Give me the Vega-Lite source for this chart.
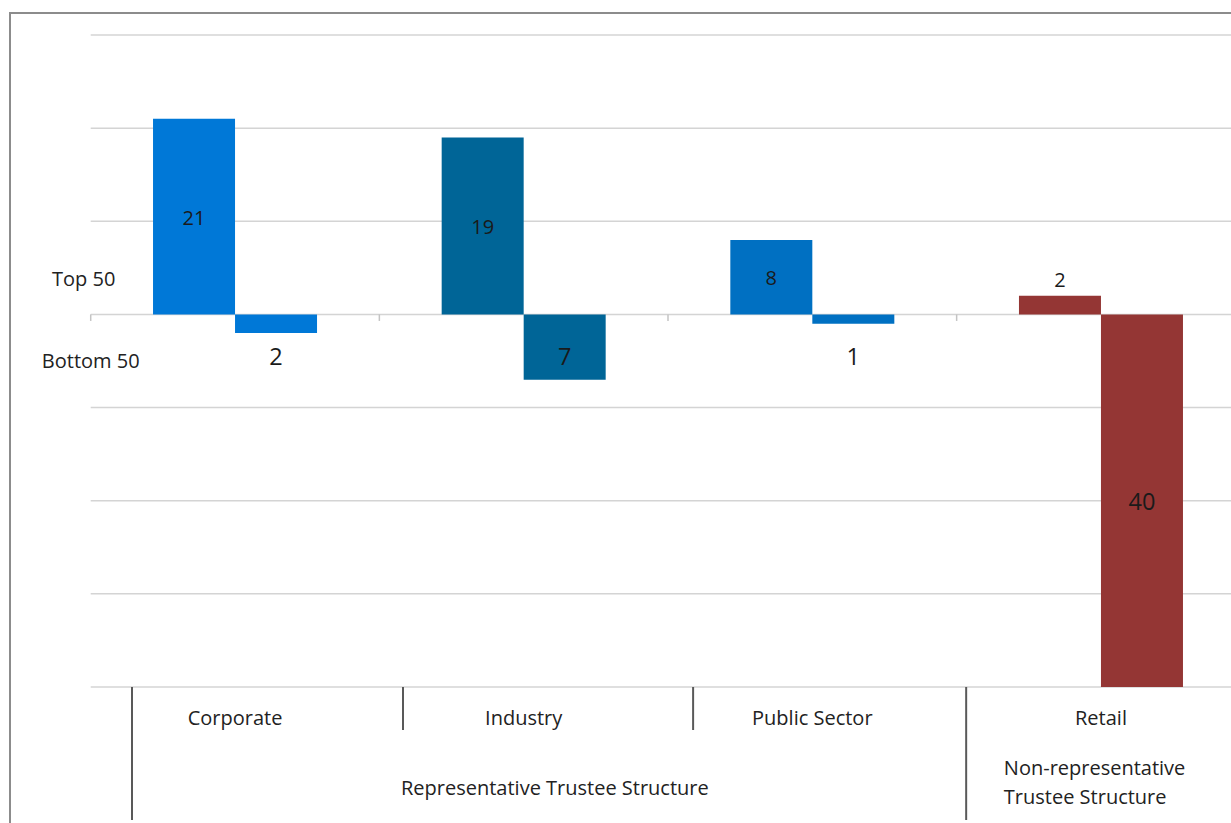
{
  "$schema": "https://vega.github.io/schema/vega-lite/v6.json",
  "width": 1316,
  "height": 817,
  "autosize": {"type": "none"},
  "padding": {"left": 10, "top": 13, "right": 0, "bottom": 0},
  "background": "white",
  "config": {
    "view": {"stroke": "#8c8c8c", "strokeWidth": 2},
    "font": "Open Sans",
    "text": {"font": "Open Sans"}
  },
  "datasets": {
    "counts": [
      {"sector": "Corporate", "series": "Top 50", "value": 21},
      {"sector": "Corporate", "series": "Bottom 50", "value": -2},
      {"sector": "Industry", "series": "Top 50", "value": 19},
      {"sector": "Industry", "series": "Bottom 50", "value": -7},
      {"sector": "Public Sector", "series": "Top 50", "value": 8},
      {"sector": "Public Sector", "series": "Bottom 50", "value": -1},
      {"sector": "Retail", "series": "Top 50", "value": 2},
      {"sector": "Retail", "series": "Bottom 50", "value": -40}
    ],
    "gridlines": [
      {"level": 30}, {"level": 20}, {"level": 10}, {"level": 0},
      {"level": -10}, {"level": -20}, {"level": -30}, {"level": -40}
    ]
  },
  "layer": [
    {
      "data": {"name": "gridlines"},
      "mark": {"type": "rule", "color": "#d4d4d4", "strokeWidth": 1.5},
      "encoding": {
        "x": {"datum": "Corporate", "type": "nominal", "bandPosition": 0, "axis": null},
        "x2": {"value": "width"},
        "y": {"field": "level", "type": "quantitative", "axis": null}
      }
    },
    {
      "data": {"name": "counts"},
      "transform": [{"filter": "datum.series == 'Top 50'"}],
      "mark": {"type": "rule", "color": "#c4c4c4", "strokeWidth": 1.5},
      "encoding": {
        "x": {"field": "sector", "type": "nominal", "bandPosition": 0, "axis": null},
        "y": {"datum": 0, "type": "quantitative", "axis": null},
        "y2": {"datum": -0.7}
      }
    },
    {
      "data": {"name": "counts"},
      "mark": {"type": "bar"},
      "encoding": {
        "x": {
          "field": "sector",
          "type": "nominal",
          "scale": {
            "domain": ["Corporate", "Industry", "Public Sector", "Retail"],
            "paddingInner": 0,
            "paddingOuter": 0.2796
          },
          "axis": null
        },
        "xOffset": {
          "field": "series",
          "type": "nominal",
          "scale": {"domain": ["Top 50", "Bottom 50"], "paddingInner": 0, "paddingOuter": 0.76}
        },
        "y": {
          "field": "value",
          "type": "quantitative",
          "scale": {"domain": [-55.353, 32.362], "nice": false, "zero": false},
          "axis": null
        },
        "y2": {"datum": 0},
        "color": {
          "field": "sector",
          "type": "nominal",
          "scale": {
            "domain": ["Corporate", "Industry", "Public Sector", "Retail"],
            "range": ["#0078d7", "#006597", "#0070c2", "#943634"]
          },
          "legend": null
        }
      }
    },
    {
      "data": {"name": "counts"},
      "transform": [
        {"filter": "datum.series == 'Top 50'"},
        {"calculate": "datum.value >= 5 ? datum.value / 2 : datum.value + 1.8", "as": "labelAt"}
      ],
      "mark": {"type": "text", "baseline": "middle", "align": "center", "fontSize": 20, "dy": 2, "color": "#1a1a1a"},
      "encoding": {
        "x": {"field": "sector", "type": "nominal", "axis": null},
        "xOffset": {"field": "series", "type": "nominal"},
        "y": {"field": "labelAt", "type": "quantitative", "axis": null},
        "text": {"field": "value", "type": "quantitative", "format": "d"}
      }
    },
    {
      "data": {"name": "counts"},
      "transform": [
        {"filter": "datum.series == 'Bottom 50'"},
        {"calculate": "datum.value <= -10 ? datum.value / 2 : -4.5", "as": "labelAt"},
        {"calculate": "abs(datum.value)", "as": "count"}
      ],
      "mark": {"type": "text", "baseline": "middle", "align": "center", "fontSize": 23.5, "dy": 2, "color": "#1a1a1a"},
      "encoding": {
        "x": {"field": "sector", "type": "nominal", "axis": null},
        "xOffset": {"field": "series", "type": "nominal"},
        "y": {"field": "labelAt", "type": "quantitative", "axis": null},
        "text": {"field": "count", "type": "quantitative", "format": "d"}
      }
    },
    {
      "data": {"name": "counts"},
      "transform": [{"filter": "datum.series == 'Top 50'"}],
      "mark": {"type": "text", "baseline": "middle", "align": "center", "fontSize": 20, "dy": 1, "color": "#222222"},
      "encoding": {
        "x": {"field": "sector", "type": "nominal", "axis": null},
        "y": {"datum": -43.33, "type": "quantitative", "axis": null},
        "text": {"field": "sector", "type": "nominal"}
      }
    },
    {
      "data": {"values": [{}]},
      "mark": {"type": "text", "baseline": "middle", "align": "center", "fontSize": 20, "color": "#222222", "dx": -7, "dy": 1},
      "encoding": {
        "x": {"datum": "Corporate", "type": "nominal", "bandPosition": 0, "axis": null},
        "y": {"datum": 3.8, "type": "quantitative", "axis": null},
        "text": {"value": "Top 50"}
      }
    },
    {
      "data": {"values": [{}]},
      "mark": {"type": "text", "baseline": "middle", "align": "center", "fontSize": 20, "color": "#222222", "dx": 0, "dy": 1},
      "encoding": {
        "x": {"datum": "Corporate", "type": "nominal", "bandPosition": 0, "axis": null},
        "y": {"datum": -5.0, "type": "quantitative", "axis": null},
        "text": {"value": "Bottom 50"}
      }
    },
    {
      "data": {"values": [{}]},
      "mark": {"type": "rule", "color": "#595959", "strokeWidth": 2},
      "encoding": {
        "x": {"datum": "Corporate", "type": "nominal", "bandPosition": 0.143, "axis": null},
        "y": {"datum": -40, "type": "quantitative", "axis": null},
        "y2": {"datum": -54.28}
      }
    },
    {
      "data": {"values": [{}]},
      "mark": {"type": "rule", "color": "#595959", "strokeWidth": 2},
      "encoding": {
        "x": {"datum": "Industry", "type": "nominal", "bandPosition": 0.082, "axis": null},
        "y": {"datum": -40, "type": "quantitative", "axis": null},
        "y2": {"datum": -44.62}
      }
    },
    {
      "data": {"values": [{}]},
      "mark": {"type": "rule", "color": "#595959", "strokeWidth": 2},
      "encoding": {
        "x": {"datum": "Public Sector", "type": "nominal", "bandPosition": 0.087, "axis": null},
        "y": {"datum": -40, "type": "quantitative", "axis": null},
        "y2": {"datum": -44.62}
      }
    },
    {
      "data": {"values": [{}]},
      "mark": {"type": "rule", "color": "#595959", "strokeWidth": 2},
      "encoding": {
        "x": {"datum": "Retail", "type": "nominal", "bandPosition": 0.033, "axis": null},
        "y": {"datum": -40, "type": "quantitative", "axis": null},
        "y2": {"datum": -54.28}
      }
    },
    {
      "data": {"values": [{}]},
      "mark": {"type": "text", "baseline": "middle", "align": "center", "fontSize": 20, "dy": 1, "color": "#222222"},
      "encoding": {
        "x": {"datum": "Industry", "type": "nominal", "bandPosition": 0.608, "axis": null},
        "y": {"datum": -50.84, "type": "quantitative", "axis": null},
        "text": {"value": "Representative Trustee Structure"}
      }
    },
    {
      "data": {"values": [{}]},
      "mark": {"type": "text", "baseline": "middle", "align": "left", "fontSize": 20, "lineHeight": 29, "dy": 1, "color": "#222222"},
      "encoding": {
        "x": {"datum": "Retail", "type": "nominal", "bandPosition": 0.1635, "axis": null},
        "y": {"datum": -48.7, "type": "quantitative", "axis": null},
        "text": {"value": ["Non-representative", "Trustee Structure"]}
      }
    }
  ]
}
